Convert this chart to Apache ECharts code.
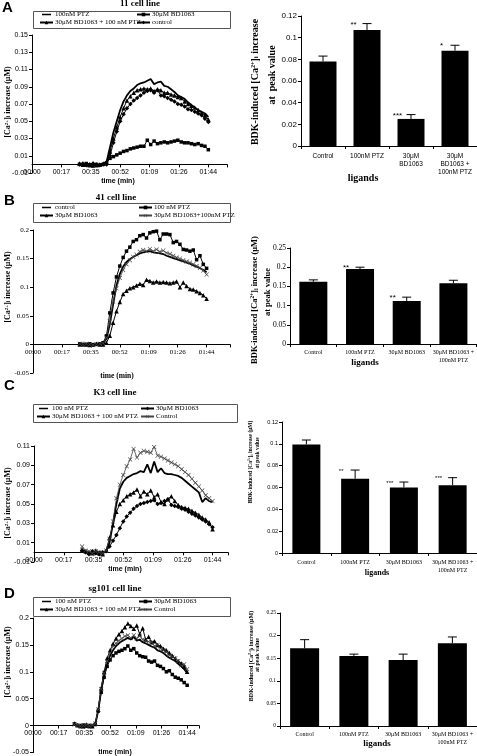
<!DOCTYPE html>
<html><head><meta charset="utf-8">
<script src="https://cdn.jsdelivr.net/npm/echarts@6/dist/echarts.min.js"></script>
<style>html,body{margin:0;padding:0;background:#fff}#c{width:477px;height:756px}</style>
</head><body><div id="c"></div>
<script>
// ---------- DATA ----------
const TIME_S = [28,30,32,34,36,38,40,42,44,46,48,50,52,54,56,58,60,62,64,66,68,70,72,74,76,78,80,82,84,86,88,90,92,94,96,98,100,102,104];
const TIME_TICK_LABELS = ['00:00','00:17','00:35','00:52','01:09','01:26','01:44'];

// A: 11 cell line
const A_PTZ   = [0.001,0,-0.001,0.001,0,-0.001,0,0.001, 0.003,0.02,0.037,0.05,0.063,0.073,0.08,0.085,0.088,0.092,0.094,0.095,0.097,0.099,0.093,0.095,0.096,0.091,0.09,0.087,0.084,0.08,0.078,0.076,0.072,0.069,0.066,0.063,0.061,0.059,0.055];
const A_BD    = [0,-0.001,0.001,-0.001,-0.002,0,-0.001,0, 0.002,0.007,0.009,0.011,0.013,0.015,0.016,0.018,0.019,0.02,0.021,0.021,0.028,0.023,0.027,0.024,0.025,0.026,0.025,0.026,0.027,0.028,0.026,0.025,0.025,0.024,0.023,0.024,0.022,0.021,0.017];
const A_COMBO = [0.001,0,0,-0.001,0.001,-0.001,0,0.001, 0.002,0.015,0.03,0.043,0.055,0.065,0.074,0.079,0.083,0.086,0.087,0.088,0.087,0.088,0.085,0.087,0.086,0.083,0.083,0.081,0.08,0.078,0.077,0.073,0.07,0.068,0.066,0.063,0.06,0.057,0.052];
const A_CTRL  = [0,0.001,-0.001,0,0.001,0,-0.001,0, 0,0.01,0.025,0.038,0.05,0.058,0.065,0.07,0.074,0.077,0.08,0.083,0.085,0.086,0.083,0.086,0.08,0.079,0.077,0.075,0.073,0.07,0.069,0.067,0.064,0.063,0.061,0.059,0.057,0.053,0.049];

// B: 41 cell line
const B_CTRL  = [0,0.001,-0.001,0,0.001,0,-0.001,0.002, 0.01,0.035,0.07,0.103,0.123,0.136,0.144,0.149,0.153,0.156,0.159,0.161,0.162,0.163,0.161,0.16,0.159,0.158,0.155,0.153,0.151,0.149,0.147,0.145,0.143,0.141,0.138,0.136,0.133,0.13,0.126];
const B_PTZ   = [0.001,-0.001,0,0.001,-0.001,0,0.001,0.003, 0.015,0.055,0.09,0.118,0.137,0.152,0.163,0.17,0.18,0.183,0.19,0.192,0.186,0.195,0.197,0.198,0.183,0.193,0.193,0.192,0.178,0.18,0.175,0.166,0.165,0.163,0.165,0.148,0.155,0.14,0.133];
const B_BD    = [0,0.001,0,-0.001,0,0.001,0,0, 0.003,0.015,0.038,0.058,0.074,0.088,0.094,0.098,0.1,0.103,0.106,0.104,0.113,0.111,0.108,0.11,0.108,0.109,0.108,0.107,0.108,0.11,0.1,0.108,0.102,0.097,0.096,0.093,0.09,0.086,0.08];
const B_COMBO = [0.001,0,0.001,0,-0.001,0,0.001,0.002, 0.012,0.04,0.075,0.098,0.116,0.13,0.14,0.147,0.153,0.157,0.162,0.165,0.163,0.167,0.163,0.166,0.162,0.164,0.16,0.158,0.155,0.152,0.15,0.147,0.145,0.143,0.14,0.137,0.134,0.129,0.122];

// C: K3 cell line
const C_PTZ   = [0.002,0.001,-0.001,0,-0.002,0.001,-0.001,0.001, 0.01,0.03,0.05,0.066,0.073,0.077,0.079,0.081,0.082,0.084,0.083,0.091,0.082,0.094,0.083,0.087,0.082,0.081,0.081,0.08,0.079,0.077,0.074,0.071,0.068,0.065,0.062,0.052,0.056,0.053,0.052];
const C_BD    = [0.002,0,-0.002,0.001,-0.001,-0.002,0,0.001, 0.006,0.012,0.018,0.025,0.032,0.037,0.041,0.045,0.048,0.05,0.051,0.052,0.053,0.054,0.05,0.051,0.053,0.055,0.049,0.048,0.047,0.045,0.044,0.042,0.04,0.038,0.036,0.034,0.032,0.029,0.026];
const C_COMBO = [0.003,0.001,0,-0.001,0.002,-0.001,-0.002,0.002, 0.015,0.028,0.042,0.05,0.054,0.058,0.06,0.062,0.065,0.058,0.063,0.06,0.064,0.057,0.06,0.052,0.05,0.055,0.058,0.053,0.049,0.047,0.046,0.045,0.043,0.041,0.039,0.036,0.034,0.031,0.024];
const C_CTRL  = [0.006,0.002,0.001,-0.001,0.001,0,-0.001,0.002, 0.014,0.032,0.056,0.07,0.08,0.089,0.096,0.107,0.098,0.103,0.105,0.104,0.103,0.109,0.1,0.099,0.097,0.095,0.093,0.091,0.089,0.086,0.083,0.08,0.076,0.072,0.068,0.064,0.059,0.056,0.053];

// D: sg101 cell line
const D_PTZ   = [0.002,-0.001,0.001,0,-0.002,0.001,0,0.002, 0.028,0.065,0.095,0.115,0.13,0.14,0.148,0.153,0.157,0.16,0.163,0.16,0.165,0.158,0.16,0.155,0.153,0.15,0.147,0.145,0.14,0.138,0.135,0.13,0.126,0.123,0.12,0.115,0.11,0.105,0.098];
const D_BD    = [0.003,0,-0.002,0.001,-0.001,-0.002,0,0.002, 0.027,0.062,0.09,0.11,0.122,0.13,0.135,0.138,0.14,0.143,0.148,0.14,0.143,0.135,0.13,0.128,0.127,0.12,0.118,0.12,0.112,0.11,0.106,0.1,0.102,0.095,0.09,0.088,0.085,0.08,0.075];
const D_COMBO = [0.004,0.001,0,-0.001,0.002,0,-0.001,0.005, 0.03,0.07,0.1,0.125,0.14,0.152,0.162,0.17,0.176,0.183,0.19,0.185,0.18,0.186,0.17,0.181,0.16,0.165,0.155,0.157,0.15,0.148,0.143,0.14,0.135,0.13,0.125,0.12,0.116,0.11,0.1];
const D_CTRL  = [0.002,0.001,-0.001,0,0.001,-0.001,0.001,0.004, 0.03,0.068,0.098,0.12,0.135,0.148,0.153,0.158,0.162,0.166,0.168,0.163,0.168,0.162,0.167,0.16,0.158,0.156,0.155,0.148,0.15,0.143,0.14,0.137,0.131,0.128,0.125,0.12,0.112,0.114,0.105];

// Bar charts: peak value
const A_BAR_CATS = ['Control','100nM PTZ','30μM\nBD1063','30μM\nBD1063 +\n100nM PTZ'];
const BAR_CATS   = ['Control','100nM PTZ','30μM BD1063','30μM BD1063 +\n100nM PTZ'];
const A_MEAN = [0.078,0.107,0.025,0.088];   const A_ERR = [0.005,0.006,0.004,0.005]; const A_SIG = ['','**','***','*'];
const B_MEAN = [0.162,0.195,0.112,0.158];   const B_ERR = [0.005,0.005,0.01,0.008];  const B_SIG = ['','**','**',''];
const C_MEAN = [0.0995,0.068,0.06,0.062];   const C_ERR = [0.004,0.008,0.005,0.007]; const C_SIG = ['','**','***','***'];
const D_MEAN = [0.172,0.155,0.146,0.183];   const D_ERR = [0.019,0.004,0.013,0.014]; const D_SIG = ['','','',''];

// ---------- CHART ----------
const SERIF = 'Liberation Serif', SANS = 'Liberation Sans';
const TICK_STEP = 104 / 6;
const XSYM = 'path://M0,1L1,0L5,4L9,0L10,1L6,5L10,9L9,10L5,6L1,10L0,9L4,5Z';
const LINE_ICON = 'path://M0,0H0.01V0.01H0ZM0,3.4H20V6.6H0ZM0,9.99H0.01V10H0Z';
const fmtNum = v => String(Math.round(v * 1000) / 1000);
const timeFmt = v => { const k = Math.round(v / TICK_STEP); return (Math.abs(v - k * TICK_STEP) < 0.05 && k >= 0 && k < TIME_TICK_LABELS.length) ? TIME_TICK_LABELS[k] : ''; };

const STY = {
  solid:    {symbol:'none', lineStyle:{width:1.8, color:'#000'}, itemStyle:{color:'#000'}},
  rect:     {symbol:'rect', symbolSize:3.5, lineStyle:{width:1, color:'#000'}, itemStyle:{color:'#000'}},
  triangle: {symbol:'triangle', symbolSize:4.5, lineStyle:{width:1, color:'#000'}, itemStyle:{color:'#000'}},
  diamond:  {symbol:'diamond', symbolSize:4.5, lineStyle:{width:1, color:'#000'}, itemStyle:{color:'#000'}},
  cross:    {symbol:XSYM, symbolSize:4.5, lineStyle:{width:0.8, color:'#444'}, itemStyle:{color:'#444'}}
};

const LINE_PANELS = [
  {grid:{left:32,top:35,width:195,height:138}, ymin:-0.01, ymax:0.15, yint:0.02, xmax:115, font:SANS, fs:7,
   series:[['100nM PTZ',A_PTZ,'solid'],['30μM BD1063 + 100 nM PTZ',A_COMBO,'triangle'],['30μM BD1063',A_BD,'rect'],['control',A_CTRL,'diamond']],
   legL:[39,11], legR:[136,11]},
  {grid:{left:33,top:230,width:197,height:143}, ymin:-0.05, ymax:0.2, yint:0.05, xmax:118, font:SERIF, fs:7,
   series:[['control',B_CTRL,'solid'],['30μM BD1063',B_BD,'triangle'],['100 nM PTZ',B_PTZ,'rect'],['30μM BD1063+100nM PTZ',B_COMBO,'cross']],
   legL:[39,204], legR:[138,204]},
  {grid:{left:34,top:446,width:194,height:116}, ymin:-0.01, ymax:0.11, yint:0.02, xmax:113, font:SANS, fs:7,
   series:[['100 nM PTZ',C_PTZ,'solid'],['30μM BD1063 + 100 nM PTZ',C_COMBO,'triangle'],['30μM BD1063',C_BD,'diamond'],['Control',C_CTRL,'cross']],
   legL:[36,405], legR:[140,405]},
  {grid:{left:33,top:618,width:166,height:135}, ymin:-0.05, ymax:0.2, yint:0.05, xmax:112, font:SANS, fs:7,
   series:[['100 nM PTZ',D_PTZ,'solid'],['30μM BD1063 + 100 nM PTZ',D_COMBO,'triangle'],['30μM BD1063',D_BD,'rect'],['Control',D_CTRL,'cross']],
   legL:[39,598], legR:[138,598]}
];

const BAR_PANELS = [
  {grid:{left:301,top:16,width:176,height:130}, ymax:0.12, yint:0.02, cats:A_BAR_CATS, mean:A_MEAN, err:A_ERR, sig:A_SIG, yfont:SANS, yfs:8, xfont:SANS, xfs:6.5, xm:6, bw:27, sigfs:8},
  {grid:{left:290,top:248,width:187,height:96}, ymax:0.25, yint:0.05, cats:BAR_CATS, mean:B_MEAN, err:B_ERR, sig:B_SIG, yfont:SERIF, yfs:7.5, xfont:SERIF, xfs:6, xm:5, bw:28, sigfs:8},
  {grid:{left:282,top:422,width:195,height:131}, ymax:0.12, yint:0.02, cats:BAR_CATS, mean:C_MEAN, err:C_ERR, sig:C_SIG, yfont:SANS, yfs:5.5, xfont:SERIF, xfs:6, xm:6, bw:28, sigfs:6},
  {grid:{left:280,top:613,width:197,height:113}, ymax:0.25, yint:0.05, cats:BAR_CATS, mean:D_MEAN, err:D_ERR, sig:D_SIG, yfont:SERIF, yfs:5.5, xfont:SERIF, xfs:6, xm:5, bw:29, sigfs:6}
];

const grids = [], xAxes = [], yAxes = [], series = [], legends = [];

function makeLegend(pos, items) {
  return {orient:'vertical', left:pos[0], top:pos[1], padding:0, itemGap:1, itemWidth:13, itemHeight:4.5,
    data:items, selectedMode:false, textStyle:{fontFamily:SERIF, fontSize:7, color:'#000', padding:[0,0,0,-3]}};
}
function legendItem(name, sty) {
  return sty === 'solid' ? {name, icon:LINE_ICON, itemStyle:{color:'#000'}} : {name};
}

LINE_PANELS.forEach((p, k) => {
  const g = grids.length;
  grids.push(Object.assign({}, p.grid));
  // x axis sits on the y = 0 line: shift it up from the grid bottom by the zero position
  const zeroOffset = -p.grid.height * (0 - p.ymin) / (p.ymax - p.ymin);
  xAxes.push({type:'value', gridIndex:g, min:0, max:p.xmax, interval:TICK_STEP, offset:zeroOffset,
    axisLine:{onZero:false, lineStyle:{color:'#000', width:1}},
    axisTick:{show:true, length:3, lineStyle:{color:'#000'}}, splitLine:{show:false},
    axisLabel:{color:'#000', fontFamily:p.font, fontSize:p.fs, margin:4, formatter:timeFmt}});
  yAxes.push({type:'value', gridIndex:g, min:p.ymin, max:p.ymax, interval:p.yint,
    axisLine:{show:true, lineStyle:{color:'#000', width:1}},
    axisTick:{show:true, length:3, lineStyle:{color:'#000'}}, splitLine:{show:false},
    axisLabel:{color:'#000', fontFamily:p.font, fontSize:p.fs, margin:4, formatter:fmtNum}});
  const pad = ' '.repeat(k);
  p.series.forEach(([name, vals, sty]) => {
    series.push(Object.assign({type:'line', name:name + pad, xAxisIndex:g, yAxisIndex:g,
      data:TIME_S.map((t, i) => [t, vals[i]]), animation:false, silent:true}, STY[sty]));
  });
  const s = p.series;
  legends.push(makeLegend(p.legL, [legendItem(s[0][0] + pad, s[0][2]), legendItem(s[1][0] + pad, s[1][2])]));
  legends.push(makeLegend(p.legR, [legendItem(s[2][0] + pad, s[2][2]), legendItem(s[3][0] + pad, s[3][2])]));
});

BAR_PANELS.forEach(p => {
  const g = grids.length;
  grids.push(Object.assign({}, p.grid));
  xAxes.push({type:'category', gridIndex:g, data:p.cats,
    axisLine:{lineStyle:{color:'#000', width:1}},
    axisTick:{show:true, length:3, lineStyle:{color:'#000'}},
    axisLabel:{interval:0, color:'#000', fontFamily:p.xfont, fontSize:p.xfs, lineHeight:p.xfs + 1.5, margin:p.xm}});
  yAxes.push({type:'value', gridIndex:g, min:0, max:p.ymax, interval:p.yint,
    axisLine:{show:true, lineStyle:{color:'#000', width:1}},
    axisTick:{show:true, length:3, lineStyle:{color:'#000'}}, splitLine:{show:false},
    axisLabel:{color:'#000', fontFamily:p.yfont, fontSize:p.yfs, margin:4, formatter:fmtNum}});
  series.push({type:'bar', xAxisIndex:g, yAxisIndex:g, data:p.mean, barWidth:p.bw,
    itemStyle:{color:'#000'}, animation:false, silent:true});
  series.push({type:'custom', xAxisIndex:g, yAxisIndex:g, animation:false, silent:true, z:5,
    data:p.mean.map((m, i) => [i, m, p.err[i]]),
    renderItem:(params, api) => {
      const i = api.value(0), m = api.value(1), e = api.value(2);
      const base = api.coord([i, m]), top = api.coord([i, m + e]);
      const half = 4.5;
      const ch = [
        {type:'line', shape:{x1:base[0], y1:base[1], x2:top[0], y2:top[1]}, style:{stroke:'#000', lineWidth:1}},
        {type:'line', shape:{x1:top[0] - half, y1:top[1], x2:top[0] + half, y2:top[1]}, style:{stroke:'#000', lineWidth:1}}
      ];
      const s = p.sig[params.dataIndex];
      if (s) ch.push({type:'text', x:top[0] - p.bw / 2, y:top[1] + 1,
        style:{text:s, align:'center', verticalAlign:'middle', fontSize:p.sigfs, fontFamily:SANS, fill:'#000'}});
      return {type:'group', children:ch};
    }});
});

// ---------- TEXT ----------
function caRich(fs, ff) {
  return {
    sup:{fontSize:fs * 0.62, fontFamily:ff, fontWeight:'bold', verticalAlign:'top', fill:'#000'},
    sub:{fontSize:fs * 0.7, fontFamily:ff, fontWeight:'bold', verticalAlign:'bottom', fill:'#000'}
  };
}
function txt(x, y, text, fs, ff, opt) {
  opt = opt || {};
  return {type:'text', x, y, rotation:opt.rot || 0, silent:true,
    style:{text, fill:'#000', fontSize:fs, fontFamily:ff, fontWeight:opt.fw || 'bold',
      align:opt.align || 'center', verticalAlign:opt.va || 'middle', rich:caRich(fs, ff)}};
}
const R = Math.PI / 2;
const CA = '[Ca{sup|2+}]{sub|i} increase (μM)';
const BDK = 'BDK-induced [Ca{sup|2+}]{sub|i} increase';
const elements = [
  txt(2, 0, 'A', 15, SANS, {align:'left', va:'top'}),
  txt(4, 193, 'B', 15, SANS, {align:'left', va:'top'}),
  txt(4, 378, 'C', 15, SANS, {align:'left', va:'top'}),
  txt(4, 586, 'D', 15, SANS, {align:'left', va:'top'}),
  txt(140, 4, '11 cell line', 9, SERIF),
  txt(116, 198, '41 cell line', 9, SERIF),
  txt(115, 393, 'K3 cell line', 9, SERIF),
  txt(115, 589, 'sg101 cell line', 9, SERIF),
  {type:'rect', silent:true, shape:{x:33.5, y:11.5, width:197, height:17}, style:{fill:'none', stroke:'#555', lineWidth:1}},
  {type:'rect', silent:true, shape:{x:33.5, y:203.5, width:197, height:19}, style:{fill:'none', stroke:'#555', lineWidth:1}},
  {type:'rect', silent:true, shape:{x:33.5, y:404.5, width:204, height:18}, style:{fill:'none', stroke:'#555', lineWidth:1}},
  {type:'rect', silent:true, shape:{x:33.5, y:597.5, width:197, height:19}, style:{fill:'none', stroke:'#555', lineWidth:1}},
  txt(8, 102, CA, 8, SERIF, {rot:R}),
  txt(8, 287, CA, 8, SERIF, {rot:R}),
  txt(8, 503, CA, 8, SERIF, {rot:R}),
  txt(8, 662, CA, 8, SERIF, {rot:R}),
  txt(118, 181, 'time (min)', 7, SANS),
  txt(117, 376, 'time (min)', 7.5, SERIF),
  txt(125, 569, 'time (min)', 7, SANS),
  txt(115, 752, 'time (min)', 7, SANS),
  txt(255, 82, BDK, 10, SERIF, {rot:R}),
  txt(272, 75, 'at  peak value', 10, SERIF, {rot:R}),
  txt(255, 300, BDK + ' (μM)', 8.5, SERIF, {rot:R}),
  txt(268, 292, 'at peak value', 8.5, SERIF, {rot:R}),
  txt(251, 462, BDK + ' (μM)', 5.5, SERIF, {rot:R}),
  txt(258, 453, 'at peak value', 5.5, SERIF, {rot:R}),
  txt(251, 656, BDK + ' (μM)', 6, SERIF, {rot:R}),
  txt(257, 655, 'at peak value', 6, SERIF, {rot:R}),
  txt(363, 178, 'ligands', 10, SERIF),
  txt(365, 363, 'ligands', 9, SERIF),
  txt(377, 573, 'ligands', 8, SERIF),
  txt(377, 744, 'ligands', 9, SERIF)
];

const chart = echarts.init(document.getElementById('c'), null, {renderer:'canvas'});
chart.setOption({
  animation:false, backgroundColor:'#fff',
  grid:grids, xAxis:xAxes, yAxis:yAxes, series, legend:legends,
  graphic:{elements}
});
</script>
</body></html>
